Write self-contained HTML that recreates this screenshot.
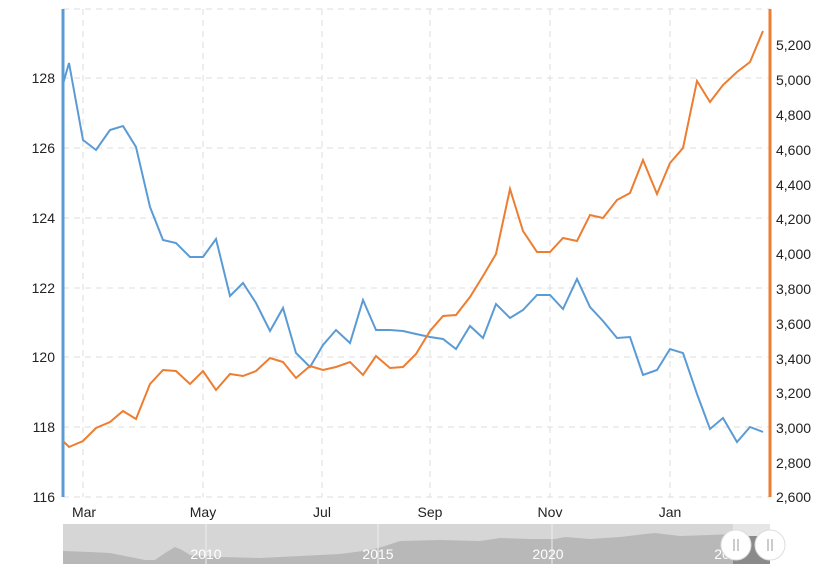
<!DOCTYPE html>
<html><head><style>
body{margin:0;background:#fff;width:839px;height:577px;overflow:hidden}
svg{font-family:"Liberation Sans","DejaVu Sans",sans-serif}
</style></head><body>
<svg width="839" height="577" xmlns="http://www.w3.org/2000/svg">
<g stroke="#ddd" stroke-dasharray="6,5" stroke-width="1">
<line x1="63" y1="9" x2="770" y2="9"/>
<line x1="63" y1="78" x2="770" y2="78"/>
<line x1="63" y1="148" x2="770" y2="148"/>
<line x1="63" y1="218" x2="770" y2="218"/>
<line x1="63" y1="288" x2="770" y2="288"/>
<line x1="63" y1="357" x2="770" y2="357"/>
<line x1="63" y1="427" x2="770" y2="427"/>
<line x1="63" y1="497" x2="770" y2="497"/>
<line x1="83" y1="9" x2="83" y2="497"/>
<line x1="203" y1="9" x2="203" y2="497"/>
<line x1="322" y1="9" x2="322" y2="497"/>
<line x1="430" y1="9" x2="430" y2="497"/>
<line x1="550" y1="9" x2="550" y2="497"/>
<line x1="670" y1="9" x2="670" y2="497"/>
</g>
<line x1="63" y1="9" x2="63" y2="497" stroke="#5b9bd5" stroke-width="3"/>
<line x1="770" y1="9" x2="770" y2="497" stroke="#ed7d31" stroke-width="3"/>
<g font-size="14" fill="#222" text-anchor="end">
<text x="55" y="83">128</text><text x="55" y="153">126</text><text x="55" y="223">124</text>
<text x="55" y="293">122</text><text x="55" y="362">120</text><text x="55" y="432">118</text><text x="55" y="502">116</text>
</g>
<g font-size="14" fill="#222" text-anchor="start">
<text x="776" y="50">5,200</text><text x="776" y="85">5,000</text><text x="776" y="120">4,800</text>
<text x="776" y="155">4,600</text><text x="776" y="190">4,400</text><text x="776" y="224">4,200</text>
<text x="776" y="259">4,000</text><text x="776" y="294">3,800</text><text x="776" y="329">3,600</text>
<text x="776" y="364">3,400</text><text x="776" y="398">3,200</text><text x="776" y="433">3,000</text>
<text x="776" y="468">2,800</text><text x="776" y="502">2,600</text>
</g>
<g font-size="14" fill="#222" text-anchor="middle">
<text x="84" y="517">Mar</text><text x="203" y="517">May</text><text x="322" y="517">Jul</text>
<text x="430" y="517">Sep</text><text x="550" y="517">Nov</text><text x="670" y="517">Jan</text>
</g>
<polyline fill="none" stroke="#5b9bd5" stroke-width="2" points="63,84 69,63 83,140 96,150 110,130 123,126 136,147 150,207 163,240 176,243 190,257 203,257 216,239 230,296 243,283 256,303 270,331 283,308 296,353 310,367 323,345 336,330 350,343 363,300 376,330 390,330 403,331 416,334 430,337 443,339 456,349 470,326 483,338 496,304 510,318 523,310 537,295 550,295 563,309 577,279 590,307 603,321 617,338 630,337 643,375 657,370 670,349 683,353 697,394 710,429 723,418 737,442 750,427 763,432"/>
<polyline fill="none" stroke="#ed7d31" stroke-width="2" points="63,441 69,447 83,441 96,428 110,422 123,411 136,419 150,384 163,370 176,371 190,384 203,371 216,390 230,374 243,376 256,371 270,358 283,362 296,378 310,366 323,370 336,367 350,362 363,375 376,356 390,368 403,367 416,354 430,331 443,316 456,315 470,297 483,276 496,254 510,189 523,231 537,252 550,252 563,238 577,241 590,215 603,218 617,200 630,193 643,160 657,194 670,163 683,148 697,81 710,102 723,85 737,72 750,62 763,31"/>
<rect x="63" y="524" width="707" height="40" fill="#d6d6d6"/>
<path d="M63,564 L63,551 L90,552 L110,553 L125,556 L145,560 L155,560 L165,553 L175,547 L182,550 L190,555 L220,557 L260,558 L280,557 L300,556 L340,554 L370,550 L385,546 L400,541 L440,540 L480,541 L500,538 L530,539 L555,539 L565,537 L590,539 L620,537 L645,534 L655,533 L680,536 L710,535 L733,534 L733,564 Z" fill="#b8b8b8"/>
<rect x="733" y="524" width="37" height="40" fill="#e6e6e6"/>
<rect x="733" y="536" width="37" height="28" fill="#8a8a8a"/>
<g stroke="#eee" stroke-width="1"><line x1="206" y1="524" x2="206" y2="564"/><line x1="378" y1="524" x2="378" y2="564"/><line x1="552" y1="524" x2="552" y2="564"/></g>
<g font-size="14" fill="#fff" text-anchor="middle">
<text x="206" y="559">2010</text><text x="378" y="559">2015</text><text x="548" y="559">2020</text><text x="722" y="559">20</text>
</g>
<circle cx="736" cy="545" r="15" fill="#fff" stroke="#ddd"/>
<circle cx="770" cy="545" r="15" fill="#fff" stroke="#ddd"/>
<g stroke="#999" stroke-width="1"><line x1="734" y1="539" x2="734" y2="551"/><line x1="738" y1="539" x2="738" y2="551"/><line x1="768" y1="539" x2="768" y2="551"/><line x1="772" y1="539" x2="772" y2="551"/></g>
</svg>
</body></html>
